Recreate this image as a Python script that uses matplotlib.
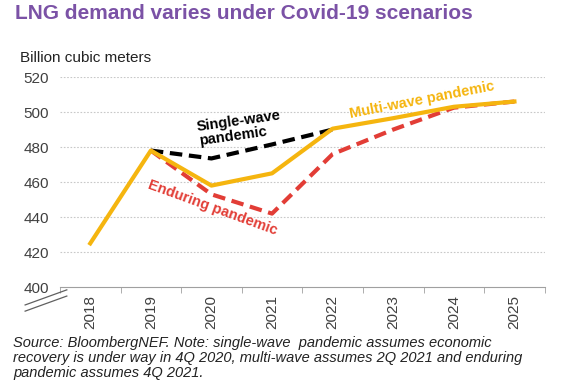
import numpy as np
import matplotlib.pyplot as plt
from matplotlib.lines import Line2D

# 데이터
years = ["2018", "2019", "2020", "2021", "2022", "2023", "2024", "2025"]
single_wave = [425, 478, 473.5, 481.5, 490, 496.5, 503, 506]
multi_wave = [425, 478, 458, 465, 490.5, 496.5, 503, 506]
enduring = [425, 478, 453, 442, 476, 490, 502.5, 506]
yticks = [400, 420, 440, 460, 480, 500, 520]

yellow = "#F5B50F"
red = "#E23D36"
purple = "#7B52A6"
gray = "#404040"

plt.rcParams['font.family'] = ['Liberation Sans', 'DejaVu Sans']

fig = plt.figure(figsize=(5.71, 3.87), dpi=100)
ax = fig.add_axes([0.105, 0.258, 0.849, 0.543])

x = np.arange(len(years))
ax.plot(x[1:5], single_wave[1:5], color="black", lw=3, ls=(0, (3, 1.6)), zorder=3)
ax.plot(x[1:], enduring[1:], color=red, lw=3, ls=(0, (3, 1.6)), zorder=3)
ax.plot(x, multi_wave, color=yellow, lw=3, zorder=4)

ax.set_xlim(-0.5, len(years) - 0.5)
ax.set_ylim(400, 520)
ax.set_yticks(yticks)
ax.set_yticklabels([str(v) for v in yticks], fontsize=11, color=gray)
ax.set_xticks(x)
ax.set_xticklabels(years, rotation=90, fontsize=11, color=gray,
                   family=['Liberation Sans Narrow', 'Liberation Sans'])
ax.tick_params(axis="x", length=0, pad=6)
ax.set_xticks(np.arange(-0.5, len(years)), minor=True)
ax.tick_params(axis="x", which="minor", length=4, color="#a0a0a0", direction="out")
ax.tick_params(axis="y", length=0, pad=8)

for v in yticks[1:]:
    ax.axhline(v, color="#c8c8c8", lw=0.8, ls=(0, (1.5, 1.5)), zorder=1)

for s in ["top", "right", "left"]:
    ax.spines[s].set_visible(False)
ax.spines["bottom"].set_color("#a0a0a0")
ax.spines["bottom"].set_linewidth(0.8)

# 축 끊김 표시
fig.add_artist(Line2D([0.044, 0.117], [0.212, 0.251], color="#606060", lw=0.9))
fig.add_artist(Line2D([0.044, 0.117], [0.196, 0.235], color="#606060", lw=0.9))

fig.text(0.026, 0.966, "LNG demand varies under Covid-19 scenarios", fontsize=15,
         fontweight="bold", color=purple, va="center")
fig.text(0.035, 0.850, "Billion cubic meters", fontsize=11, color="#222222", va="center")

ax.text(2.47, 490.9, "Single-wave\npandemic", fontsize=10.5, fontweight="bold", color="black",
        rotation=8, ha="center", va="center", multialignment="left", linespacing=1.0,
        rotation_mode="anchor")
ax.text(2.02, 445.1, "Enduring pandemic", fontsize=10.5, fontweight="bold", color=red,
        rotation=-20, ha="center", va="center", rotation_mode="anchor")
ax.text(5.47, 506.9, "Multi-wave pandemic", fontsize=10.5, fontweight="bold", color=yellow,
        rotation=11, ha="center", va="center", rotation_mode="anchor")

fig.text(0.023, 0.075, "Source: BloombergNEF. Note: single-wave  pandemic assumes economic\n"
         "recovery is under way in 4Q 2020, multi-wave assumes 2Q 2021 and enduring\n"
         "pandemic assumes 4Q 2021.", fontsize=10.5, style="italic", color="#222222",
         va="center", linespacing=1.05)

fig.savefig("out.png", dpi=100)
